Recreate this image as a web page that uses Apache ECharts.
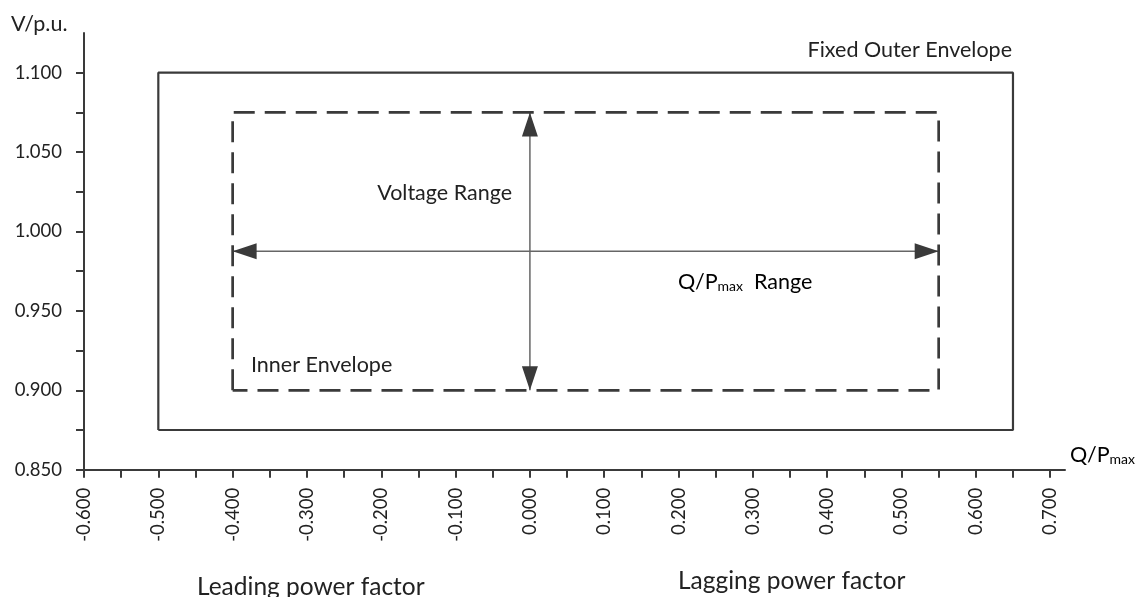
<!DOCTYPE html>
<html>
<head>
<meta charset="utf-8">
<script src="https://cdn.jsdelivr.net/npm/echarts@6/dist/echarts.min.js"></script>
<style>html,body{margin:0;padding:0;background:#fff}#c{width:1135px;height:597px}</style>
</head>
<body>
<div id="c"></div>
<script>
// ---- data ----
const xTickValues = [-0.6,-0.55,-0.5,-0.45,-0.4,-0.35,-0.3,-0.25,-0.2,-0.15,-0.1,-0.05,0,0.05,0.1,0.15,0.2,0.25,0.3,0.35,0.4,0.45,0.5,0.55,0.6,0.65,0.7];
const xLabelValues = [-0.6,-0.5,-0.4,-0.3,-0.2,-0.1,0,0.1,0.2,0.3,0.4,0.5,0.6,0.7];
const yTickValues = [0.85,0.875,0.9,0.925,0.95,0.975,1.0,1.025,1.05,1.075,1.1];
const yLabelValues = [0.85,0.9,0.95,1.0,1.05,1.1];
const outerEnvelope = [[-0.5,0.875],[-0.5,1.1],[0.65,1.1],[0.65,0.875],[-0.5,0.875]];
const innerEnvelope = [[-0.4,0.9],[-0.4,1.075],[0.55,1.075],[0.55,0.9],[-0.4,0.9]];
const rangeArrows = [[0,0.9,0,1.075],[-0.4,0.9875,0.55,0.9875]];

const FONT = 'Lato';
const AX = '#3a3a3a';
const chart = echarts.init(document.getElementById('c'), null, {renderer:'canvas'});

function arrowRender(params, api){
  const p1 = api.coord([api.value(0), api.value(1)]);
  const p2 = api.coord([api.value(2), api.value(3)]);
  const dx = p2[0]-p1[0], dy = p2[1]-p1[1];
  const len = Math.sqrt(dx*dx+dy*dy);
  const ux = dx/len, uy = dy/len, nx = -uy, ny = ux;
  const L = 24, W = 8;
  function head(tip, sx, sy){
    const bx = tip[0] - sx*L, by = tip[1] - sy*L;
    return {type:'polygon', shape:{points:[[tip[0],tip[1]],[bx+nx*W,by+ny*W],[bx-nx*W,by-ny*W]]}, style:{fill:'#3a3a3a'}};
  }
  return {type:'group', children:[
    {type:'line', shape:{x1:p1[0],y1:p1[1],x2:p2[0],y2:p2[1]}, style:{stroke:'#666',lineWidth:1.5}},
    head(p2, ux, uy),
    head(p1, -ux, -uy)
  ]};
}

const txt = (x, y, text, size, align) => ({
  type:'text', x:x, y:y,
  style:{text:text, font: size + 'px ' + FONT, fill:'#222', align:align||'left', verticalAlign:'middle'}
});

const richSub = {
  base:{fontSize:21.5, fontFamily:FONT, color:'#222'},
  sub:{fontSize:14, fontFamily:FONT, color:'#333', verticalAlign:'bottom', padding:[9,0,0,0]}
};

chart.setOption({
  animation:false,
  backgroundColor:'#fff',
  grid:{left:84, right:70, top:33, bottom:127.3, containLabel:false},
  xAxis:{
    type:'value', min:-0.6, max:0.72, interval:0.05,
    splitLine:{show:false},
    axisLine:{show:true, onZero:false, lineStyle:{color:AX, width:2}},
    axisTick:{show:true, length:8, lineStyle:{color:AX, width:2}, customValues:xTickValues},
    axisLabel:{rotate:90, margin:18, fontSize:18.5, fontFamily:FONT, color:'#222',
      customValues:xLabelValues, formatter:v=>Number(v).toFixed(3)}
  },
  yAxis:{
    type:'value', min:0.85, max:1.125, interval:0.025,
    splitLine:{show:false},
    axisLine:{show:true, onZero:false, lineStyle:{color:AX, width:2}},
    axisTick:{show:true, length:8, lineStyle:{color:AX, width:2}, customValues:yTickValues},
    axisLabel:{margin:22, fontSize:18.5, fontFamily:FONT, color:'#222',
      customValues:yLabelValues, formatter:v=>Number(v).toFixed(3)}
  },
  series:[
    {type:'line', data:outerEnvelope, symbol:'none', silent:true,
      lineStyle:{color:'#3a3a3a', width:2.2}},
    {type:'line', data:innerEnvelope, symbol:'none', silent:true,
      lineStyle:{color:'#3a3a3a', width:2.7, type:[21,10]}},
    {type:'custom', data:rangeArrows, renderItem:arrowRender, silent:true,
      encode:{x:[0,2], y:[1,3]}}
  ],
  graphic:[
    txt(11, 24, 'V/p.u.', 21.5),
    txt(1012, 50, 'Fixed Outer Envelope', 21.5, 'right'),
    txt(512, 193, 'Voltage Range', 21.5, 'right'),
    {type:'text', x:678, y:282, style:{text:'{base|Q/P}{sub|max}{base|  Range}', rich:richSub, verticalAlign:'middle'}},
    txt(251, 365, 'Inner Envelope', 21.5),
    {type:'text', x:1070, y:455, style:{text:'{base|Q/P}{sub|max}', rich:richSub, verticalAlign:'middle'}},
    txt(197, 587, 'Leading power factor', 24.5),
    txt(678, 581, 'Lagging power factor', 24.5)
  ]
});
</script>
</body>
</html>
